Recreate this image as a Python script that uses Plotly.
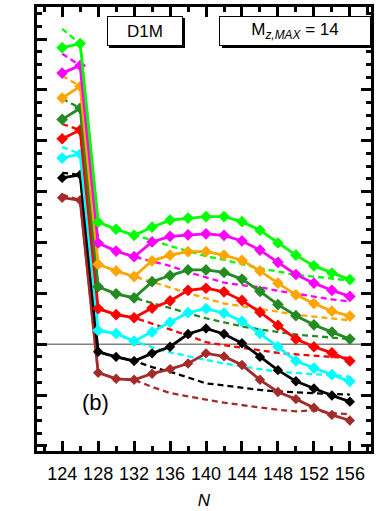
import plotly.graph_objects as go

N = [124, 126, 128, 130, 132, 134, 136, 138, 140, 142, 144, 146, 148, 150, 152, 154, 156]

green = [5.83, 5.91, 2.40, 2.26, 2.14, 2.30, 2.44, 2.48, 2.51, 2.51, 2.41, 2.24, 1.99, 1.75, 1.54, 1.40, 1.27]
green_d = [6.20, 5.91, 2.40, 2.26, 2.14, 2.05, 1.93, 1.83, 1.73, 1.66, 1.57, 1.49, 1.43, 1.36, 1.33, 1.29, 1.25]

magenta = [5.33, 5.48, 1.99, 1.83, 1.72, 2.01, 2.12, 2.15, 2.17, 2.14, 2.03, 1.85, 1.61, 1.37, 1.20, 1.06, 0.94]
magenta_d = [5.71, 5.48, 1.99, 1.83, 1.72, 1.63, 1.54, 1.42, 1.31, 1.21, 1.16, 1.12, 1.05, 0.99, 0.93, 0.88, 0.84]

orange = [4.84, 5.07, 1.57, 1.44, 1.33, 1.64, 1.75, 1.82, 1.82, 1.75, 1.65, 1.44, 1.20, 0.97, 0.80, 0.65, 0.55]
orange_d = [5.28, 5.07, 1.57, 1.44, 1.33, 1.22, 1.11, 1.00, 0.90, 0.80, 0.75, 0.70, 0.64, 0.58, 0.54, 0.50, 0.47]

dkgreen = [4.42, 4.64, 1.13, 0.99, 0.91, 1.23, 1.35, 1.46, 1.46, 1.41, 1.28, 1.04, 0.78, 0.56, 0.38, 0.24, 0.10]
dkgreen_d = [4.83, 4.64, 1.13, 0.99, 0.91, 0.81, 0.70, 0.60, 0.51, 0.43, 0.35, 0.29, 0.24, 0.19, 0.16, 0.13, 0.10]

red = [4.04, 4.21, 0.70, 0.58, 0.52, 0.71, 0.85, 1.06, 1.10, 1.03, 0.86, 0.63, 0.37, 0.10, -0.05, -0.17, -0.33]
red_d = [4.33, 4.21, 0.70, 0.58, 0.52, 0.41, 0.29, 0.17, 0.04, -0.02, -0.07, -0.12, -0.17, -0.20, -0.23, -0.25, -0.27]

cyan = [3.66, 3.74, 0.27, 0.21, 0.06, 0.24, 0.43, 0.62, 0.70, 0.61, 0.45, 0.21, -0.05, -0.33, -0.47, -0.60, -0.73]
cyan_d = [3.88, 3.74, 0.27, 0.21, 0.06, -0.06, -0.16, -0.24, -0.31, -0.38, -0.44, -0.49, -0.54, -0.57, -0.59, -0.61, -0.64]

black = [3.27, 3.33, -0.15, -0.25, -0.33, -0.18, -0.05, 0.20, 0.31, 0.20, 0.02, -0.25, -0.51, -0.73, -0.87, -1.01, -1.13]
black_d = [3.37, 3.33, -0.15, -0.25, -0.33, -0.45, -0.54, -0.66, -0.77, -0.81, -0.86, -0.90, -0.93, -0.95, -0.97, -0.98, -0.99]

brown = [2.88, 2.83, -0.56, -0.68, -0.70, -0.58, -0.49, -0.38, -0.18, -0.24, -0.41, -0.70, -0.94, -1.08, -1.25, -1.39, -1.50]
brown_d = [2.94, 2.83, -0.56, -0.68, -0.70, -0.84, -0.96, -1.03, -1.09, -1.15, -1.20, -1.25, -1.29, -1.32, -1.30, -1.35, -1.38]

series = [
    (brown, brown_d, "#a52a2a", 8),
    (black, black_d, "#000000", 8),
    (cyan, cyan_d, "#00ffff", 9),
    (red, red_d, "#ff0000", 9),
    (dkgreen, dkgreen_d, "#228b22", 9),
    (orange, orange_d, "#ffa500", 9),
    (magenta, magenta_d, "#ff00ff", 9),
    (green, green_d, "#00ff00", 9),
]

FONT = "Liberation Sans, Arial, Helvetica, sans-serif"

fig = go.Figure()
for solid, dashed, col, ms in series:
    fig.add_trace(go.Scatter(x=N, y=dashed, mode="lines",
                             line=dict(color=col, width=2.3, dash="6px,4px"),
                             showlegend=False, hoverinfo="skip"))
for solid, dashed, col, ms in series:
    fig.add_trace(go.Scatter(x=N, y=solid, mode="lines+markers",
                             line=dict(color=col, width=2.8),
                             marker=dict(symbol="diamond", size=ms, color=col),
                             showlegend=False))

# zero line
fig.add_shape(type="line", xref="paper", yref="y", x0=0, x1=1, y0=0, y1=0,
              line=dict(color="#808080", width=1.5), layer="below")

# label boxes (shadow + framed box), positioned in paper coordinates
def label_box(xc, yc, w, h, text):
    fig.add_annotation(x=xc, y=yc, xref="paper", yref="paper", text=" ",
                       xanchor="center", yanchor="middle",
                       showarrow=False, width=w, height=h, bgcolor="black",
                       borderwidth=1, bordercolor="black", borderpad=0,
                       xshift=2.5, yshift=-2.5)
    fig.add_annotation(x=xc, y=yc, xref="paper", yref="paper", text=text,
                       xanchor="center", yanchor="middle",
                       showarrow=False, width=w, height=h, bgcolor="white",
                       borderwidth=1, bordercolor="black", borderpad=0,
                       font=dict(family=FONT, size=17, color="black"))

label_box(0.322, 0.947, 74, 28, "D1M")
label_box(0.773, 0.947, 150, 28, "M<sub><i>z,MAX</i></sub> = 14")

fig.add_annotation(x=0.174, y=0.109, xref="paper", yref="paper", text="(b)",
                   xanchor="center", yanchor="middle",
                   showarrow=False, font=dict(family=FONT, size=22, color="black"))

fig.update_layout(
    width=379, height=511,
    margin=dict(l=37, r=8, t=4, b=59),
    paper_bgcolor="white", plot_bgcolor="white",
    font=dict(family=FONT, size=18, color="black"),
    showlegend=False,
    xaxis=dict(range=[121.2, 158.35], tick0=124, dtick=4, ticks="inside",
               ticklen=10, tickwidth=3, tickcolor="black", mirror="allticks",
               showline=True, linewidth=3, linecolor="black", showgrid=False,
               zeroline=False, tickfont=dict(family=FONT, size=18),
               ticklabelstandoff=4,
               minor=dict(dtick=2, ticks="inside", ticklen=5, tickwidth=3, tickcolor="black", showgrid=False),
               title=dict(text="<i>N</i>", font=dict(family=FONT, size=17), standoff=12)),
    yaxis=dict(range=[-2.10, 6.63], tick0=0, dtick=1, ticks="inside",
               ticklen=10, tickwidth=3, tickcolor="black", mirror="allticks",
               showline=True, linewidth=3, linecolor="black", showgrid=False,
               zeroline=False, showticklabels=False,
               minor=dict(dtick=0.25, ticks="inside", ticklen=5, tickwidth=3, tickcolor="black", showgrid=False)),
)

fig.write_html("out.html", config={"displayModeBar": False},
               post_script="document.body.style.margin='0';")
